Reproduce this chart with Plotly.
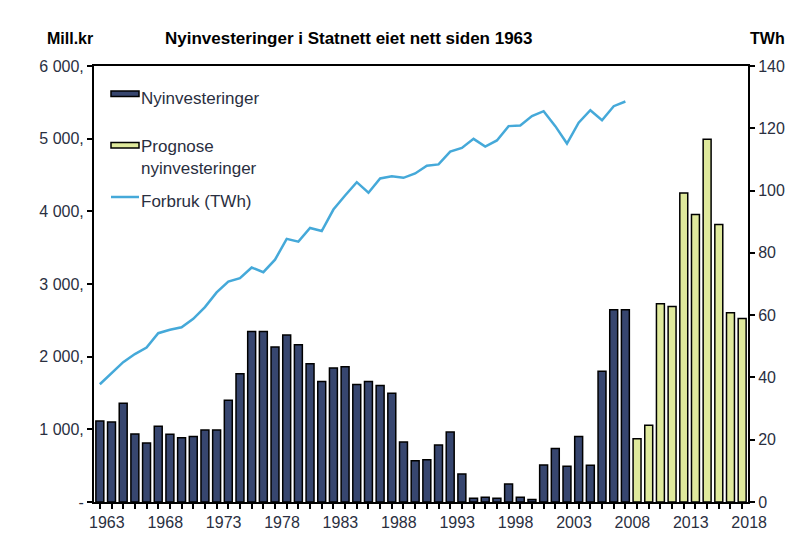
import plotly.graph_objects as go

# ---- data ----
years_actual = list(range(1963, 2009))
invest_actual = [1114, 1100, 1358, 936, 812, 1041, 931, 885, 903, 990,
                 990, 1400, 1765, 2347, 2347, 2132, 2297, 2164, 1903, 1659,
                 1843, 1862, 1618, 1659, 1604, 1495, 825, 569, 583, 784,
                 962, 386, 51, 64, 51, 247, 64, 36, 509, 735,
                 491, 903, 505, 1801, 2645, 2645]

years_prognosis = list(range(2009, 2019))
invest_prognosis = [872, 1055, 2728, 2692, 4254, 3956, 4992, 3819, 2603, 2526]

years_consumption = list(range(1963, 2009))
consumption_twh = [37.8, 41.3, 44.9, 47.5, 49.6, 54.2, 55.3, 56.1, 58.8, 62.6,
                   67.3, 70.8, 71.9, 75.3, 73.8, 77.8, 84.5, 83.6, 88.0, 87.0,
                   93.9, 98.4, 102.7, 99.3, 103.9, 104.6, 104.1, 105.5, 108.0, 108.4,
                   112.5, 113.7, 116.6, 114.1, 116.1, 120.7, 120.9, 123.9, 125.5, 120.7,
                   115.1, 121.8, 125.8, 122.6, 127.1, 128.6]

left_tickvals = [0, 1000, 2000, 3000, 4000, 5000, 6000]
left_ticktext = ["-", "1 000,", "2 000,", "3 000,", "4 000,", "5 000,", "6 000,"]
right_tickvals = [0, 20, 40, 60, 80, 100, 120, 140]
x_label_years = [1963, 1968, 1973, 1978, 1983, 1988, 1993, 1998, 2003, 2008, 2013, 2018]

FONT = "Liberation Sans, Arial, sans-serif"
NAVY = "#37466f"
LIME = "#dfe99c"
BLUE = "#45a9d9"
TXT = "#2a2f3f"

# plot-area geometry (figure pixels) used for placing the hand-drawn legend
FIG_W, FIG_H = 792, 549
M_L, M_R, M_T, M_B = 86, 52, 58, 55
PLOT_W = FIG_W - M_L - M_R
PLOT_H = FIG_H - M_T - M_B
OFF = 8  # page body offset in the screenshot


def px(xs):
    return (xs - OFF - M_L) / PLOT_W


def py(ys):
    return (FIG_H - M_B + OFF - ys) / PLOT_H


all_years = list(range(1963, 2019))
x_ticktext = [str(y) if y in x_label_years else "" for y in all_years]

fig = go.Figure()
fig.add_trace(go.Bar(
    x=years_actual, y=invest_actual, name="Nyinvesteringer",
    marker=dict(color=NAVY, line=dict(color="black", width=1.5)),
    width=0.68))
fig.add_trace(go.Bar(
    x=years_prognosis, y=invest_prognosis, name="Prognose nyinvesteringer",
    marker=dict(color=LIME, line=dict(color="black", width=1.5)),
    width=0.68))
fig.add_trace(go.Scatter(
    x=years_consumption, y=consumption_twh, name="Forbruk (TWh)",
    mode="lines", line=dict(color=BLUE, width=2.5), yaxis="y2"))

legend_font = dict(family=FONT, size=17, color=TXT)
shapes = [
    dict(type="rect", xref="paper", yref="paper",
         x0=px(111), x1=px(139), y0=py(96.5), y1=py(91),
         fillcolor=NAVY, line=dict(color="black", width=1.5)),
    dict(type="rect", xref="paper", yref="paper",
         x0=px(111), x1=px(139), y0=py(148), y1=py(142.5),
         fillcolor=LIME, line=dict(color="black", width=1.5)),
    dict(type="line", xref="paper", yref="paper",
         x0=px(111), x1=px(139), y0=py(197), y1=py(197),
         line=dict(color=BLUE, width=2.5)),
]
legend_texts = [("Nyinvesteringer", 98.5),
                ("Prognose<br>nyinvesteringer", 157.5),
                ("Forbruk (TWh)", 201.5)]
annotations = [
    dict(text=t, xref="paper", yref="paper", x=px(140), y=py(yc),
         xanchor="left", yanchor="middle", align="left", showarrow=False,
         font=legend_font, borderpad=0)
    for t, yc in legend_texts
]
annotations += [
    dict(text="<b>Mill.kr</b>", xref="paper", yref="paper", x=-0.075, y=1.063,
         xanchor="left", yanchor="middle", showarrow=False,
         font=dict(family=FONT, size=16, color="black")),
    dict(text="<b>Nyinvesteringer i Statnett eiet nett siden 1963</b>",
         xref="paper", yref="paper", x=0.105, y=1.063,
         xanchor="left", yanchor="middle", showarrow=False,
         font=dict(family=FONT, size=17, color="black")),
    dict(text="<b>TWh</b>", xref="paper", yref="paper", x=1.0, y=1.063,
         xanchor="left", yanchor="middle", showarrow=False,
         font=dict(family=FONT, size=16, color="black")),
]

fig.update_layout(
    width=FIG_W, height=FIG_H,
    margin=dict(l=M_L, r=M_R, t=M_T, b=M_B, autoexpand=False),
    paper_bgcolor="white", plot_bgcolor="white",
    barmode="overlay",
    font=dict(family=FONT, size=16, color=TXT),
    showlegend=False,
    xaxis=dict(range=[1962.5, 2018.5], tickmode="array",
               tickvals=all_years, ticktext=x_ticktext,
               ticks="outside", ticklen=5, tickwidth=1.5, tickcolor="black",
               showline=True, linecolor="black", linewidth=2, mirror=True,
               showgrid=False, zeroline=False, automargin=False,
               ticklabelshift=7,
               tickfont=dict(family=FONT, size=16, color=TXT)),
    yaxis=dict(range=[0, 6000], tickmode="array",
               tickvals=left_tickvals, ticktext=left_ticktext,
               ticks="outside", ticklen=5, tickwidth=1.5, tickcolor="black",
               showline=True, linecolor="black", linewidth=2,
               showgrid=False, zeroline=False, automargin=False,
               tickfont=dict(family=FONT, size=16, color=TXT)),
    yaxis2=dict(range=[0, 140], overlaying="y", side="right",
                tickmode="array", tickvals=right_tickvals,
                ticks="outside", ticklen=5, tickwidth=1.5, tickcolor="black",
                showline=True, linecolor="black", linewidth=2,
                showgrid=False, zeroline=False, automargin=False,
                tickfont=dict(family=FONT, size=16, color=TXT)),
    shapes=shapes,
    annotations=annotations,
)

fig.write_html("out.html")
